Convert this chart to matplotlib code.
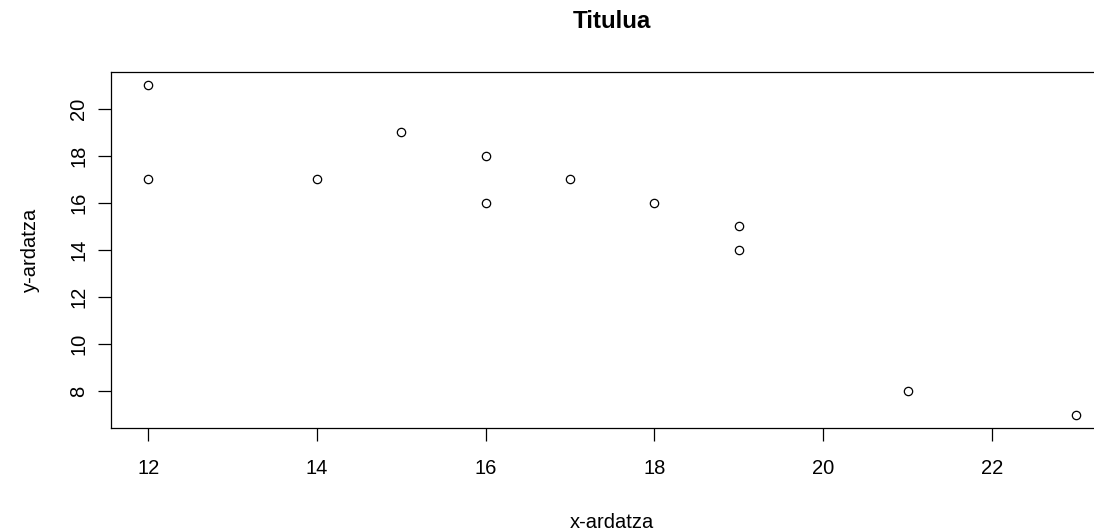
import matplotlib
matplotlib.use("Agg")
import matplotlib.pyplot as plt

plt.rcParams['font.family'] = ['Liberation Sans', 'DejaVu Sans']

x = [12, 12, 14, 15, 16, 16, 17, 18, 19, 19, 21, 23]
y = [21, 17, 17, 19, 18, 16, 17, 16, 15, 14, 8, 7]
xticks = [12, 14, 16, 18, 20, 22]
yticks = [8, 10, 12, 14, 16, 18, 20]

fig = plt.figure(figsize=(10.94, 5.32), dpi=100)
# R-style plot region; right part runs off the device like in the original
ax = fig.add_axes([111 / 1094, 1 - 428 / 532, (1113.5 - 111) / 1094, (428 - 72) / 532])
ax.plot(x, y, linestyle='none', marker='o', markersize=6,
        markerfacecolor='white', markeredgecolor='black', markeredgewidth=0.9)

xr = max(x) - min(x)
yr = max(y) - min(y)
ax.set_xlim(min(x) - 0.04 * xr, max(x) + 0.04 * xr)
ax.set_ylim(min(y) - 0.04 * yr, max(y) + 0.04 * yr)
ax.set_xticks(xticks)
ax.set_yticks(yticks)
ax.tick_params(length=9.5, width=0.9, labelsize=14.5)
ax.tick_params(axis='x', pad=13)
ax.tick_params(axis='y', labelrotation=90, pad=7)
for lab in ax.get_yticklabels():
    lab.set_va('center')
for s in ax.spines.values():
    s.set_linewidth(0.9)

fig.text(0.5 * (111 + 1113.5) / 1094, 1 - 523 / 532, 'x-ardatza', ha='center', va='center', fontsize=14.5)
fig.text(30 / 1094, 1 - 250 / 532, 'y-ardatza', ha='center', va='center', rotation=90, fontsize=14.5)
fig.text(0.5 * (111 + 1113.5) / 1094, 1 - 21 / 532, 'Titulua', ha='center', va='center',
         fontsize=17.4, fontweight='bold')

fig.savefig('out.png', dpi=100)
